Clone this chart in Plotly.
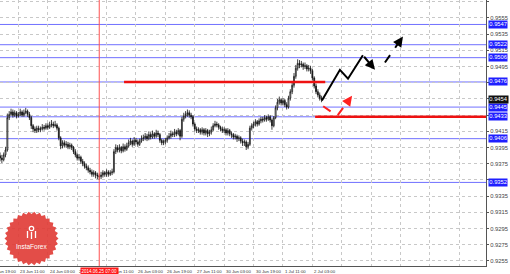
import math
import plotly.graph_objects as go

# ---------------- data ----------------
bar_index = list(range(6, 182))
first_open = 0.9385
closes = [
 0.9382,0.9380,0.9386,0.9392,0.9432,0.9436,0.9439,0.9435,0.9438,0.9434,0.9436,0.9439,0.9435,0.9438,0.9440,0.9436,
 0.9432,0.9422,0.9418,0.9416,0.9419,0.9417,0.9418,0.9420,0.9419,0.9422,0.9420,0.9423,0.9424,0.9422,0.9423,0.9419,
 0.9407,0.9397,0.9401,0.9398,0.9399,0.9396,0.9398,0.9395,0.9390,0.9386,0.9382,0.9383,0.9378,0.9375,0.9372,0.9370,
 0.9367,0.9365,0.9362,0.9364,0.9361,0.9360,0.9359,0.9361,0.9364,0.9362,0.9365,0.9362,0.9364,0.9365,0.9390,0.9395,
 0.9392,0.9395,0.9391,0.9396,0.9393,0.9397,0.9401,0.9403,0.9399,0.9404,0.9402,0.9399,0.9403,0.9406,0.9407,0.9409,
 0.9406,0.9411,0.9408,0.9412,0.9409,0.9413,0.9411,0.9404,0.9401,0.9402,0.9404,0.9407,0.9409,0.9412,0.9411,0.9414,
 0.9412,0.9416,0.9409,0.9430,0.9434,0.9436,0.9438,0.9435,0.9433,0.9424,0.9418,0.9416,0.9417,0.9414,0.9417,0.9413,
 0.9416,0.9412,0.9414,0.9417,0.9422,0.9424,0.9423,0.9420,0.9418,0.9416,0.9417,0.9413,0.9416,0.9412,0.9411,0.9408,
 0.9409,0.9406,0.9407,0.9403,0.9401,0.9402,0.9396,0.9399,0.9419,0.9422,0.9424,0.9427,0.9424,0.9428,0.9430,0.9429,
 0.9432,0.9430,0.9433,0.9429,0.9422,0.9432,0.9444,0.9451,0.9454,0.9450,0.9453,0.9448,0.9445,0.9456,0.9464,0.9472,
 0.9483,0.9493,0.9499,0.9497,0.9498,0.9495,0.9496,0.9492,0.9493,0.9490,0.9481,0.9471,0.9464,0.9460,0.9456,0.9454]
highs = [
 0.9389,0.9386,0.9389,0.9396,0.9437,0.9440,0.9443,0.9442,0.9441,0.9440,0.9439,0.9443,0.9441,0.9442,0.9444,0.9442,
 0.9439,0.9434,0.9424,0.9421,0.9422,0.9422,0.9421,0.9424,0.9423,0.9425,0.9425,0.9427,0.9429,0.9427,0.9428,0.9425,
 0.9421,0.9409,0.9404,0.9404,0.9403,0.9402,0.9401,0.9400,0.9397,0.9393,0.9388,0.9387,0.9385,0.9381,0.9378,0.9375,
 0.9373,0.9370,0.9368,0.9367,0.9366,0.9364,0.9363,0.9365,0.9367,0.9366,0.9368,0.9367,0.9367,0.9369,0.9393,0.9399,
 0.9398,0.9399,0.9397,0.9400,0.9399,0.9401,0.9405,0.9407,0.9405,0.9408,0.9407,0.9405,0.9406,0.9410,0.9411,0.9413,
 0.9412,0.9415,0.9414,0.9416,0.9414,0.9417,0.9416,0.9413,0.9406,0.9405,0.9407,0.9410,0.9413,0.9416,0.9415,0.9418,
 0.9417,0.9419,0.9418,0.9433,0.9438,0.9440,0.9442,0.9441,0.9438,0.9435,0.9426,0.9421,0.9420,0.9419,0.9420,0.9419,
 0.9419,0.9418,0.9417,0.9421,0.9425,0.9428,0.9427,0.9425,0.9422,0.9421,0.9420,0.9419,0.9419,0.9418,0.9415,0.9413,
 0.9412,0.9411,0.9410,0.9409,0.9406,0.9405,0.9404,0.9402,0.9422,0.9425,0.9427,0.9430,0.9429,0.9431,0.9433,0.9433,
 0.9435,0.9434,0.9436,0.9435,0.9431,0.9434,0.9447,0.9455,0.9458,0.9456,0.9456,0.9455,0.9451,0.9459,0.9467,0.9476,
 0.9487,0.9497,0.9504,0.9503,0.9502,0.9500,0.9500,0.9498,0.9497,0.9496,0.9492,0.9483,0.9474,0.9467,0.9463,0.9459]
lows = [
 0.9378,0.9376,0.9378,0.9383,0.9390,0.9429,0.9434,0.9432,0.9433,0.9431,0.9432,0.9434,0.9433,0.9433,0.9436,0.9433,
 0.9429,0.9418,0.9414,0.9413,0.9413,0.9414,0.9414,0.9416,0.9416,0.9417,0.9417,0.9418,0.9420,0.9419,0.9420,0.9416,
 0.9404,0.9393,0.9394,0.9395,0.9395,0.9393,0.9393,0.9392,0.9387,0.9383,0.9379,0.9379,0.9375,0.9372,0.9369,0.9367,
 0.9364,0.9362,0.9359,0.9359,0.9357,0.9356,0.9355,0.9356,0.9358,0.9359,0.9359,0.9359,0.9360,0.9361,0.9363,0.9387,
 0.9389,0.9389,0.9388,0.9389,0.9390,0.9391,0.9395,0.9398,0.9396,0.9397,0.9399,0.9396,0.9397,0.9401,0.9403,0.9404,
 0.9403,0.9404,0.9405,0.9406,0.9406,0.9407,0.9408,0.9401,0.9398,0.9398,0.9399,0.9401,0.9405,0.9406,0.9408,0.9408,
 0.9409,0.9410,0.9404,0.9407,0.9427,0.9431,0.9433,0.9432,0.9430,0.9421,0.9415,0.9413,0.9413,0.9411,0.9411,0.9410,
 0.9410,0.9408,0.9409,0.9411,0.9415,0.9420,0.9420,0.9417,0.9415,0.9413,0.9413,0.9410,0.9410,0.9409,0.9407,0.9405,
 0.9405,0.9402,0.9403,0.9400,0.9397,0.9397,0.9392,0.9393,0.9397,0.9416,0.9419,0.9421,0.9421,0.9422,0.9425,0.9426,
 0.9427,0.9427,0.9428,0.9426,0.9417,0.9420,0.9430,0.9441,0.9448,0.9447,0.9447,0.9445,0.9442,0.9443,0.9453,0.9461,
 0.9469,0.9480,0.9490,0.9493,0.9494,0.9491,0.9492,0.9489,0.9489,0.9486,0.9478,0.9468,0.9461,0.9457,0.9453,0.9451]
opens = [first_open] + closes[:-1]

time_tick_index = [0, 16, 32, 48, 64, 80, 96, 112, 128, 144, 160, 176]
time_tick_labels = ["22 Jun 19:00", "23 Jun 11:00", "24 Jun 03:00", "24 Jun 19:00", "25 Jun 11:00",
                    "26 Jun 03:00", "26 Jun 19:00", "27 Jun 11:00", "30 Jun 03:00", "30 Jun 19:00",
                    "1 Jul 11:00", "2 Jul 03:00"]
grid_time_index = list(range(0, 272, 16))

price_ticks = [0.9255, 0.9275, 0.9295, 0.9315, 0.9335, 0.9355, 0.9375, 0.9395, 0.9415,
               0.9435, 0.9455, 0.9475, 0.9495, 0.9515, 0.9535, 0.9555, 0.9575]
# ticks hidden under the coloured level labels are left blank
price_tick_labels = ["0.9255", "0.9275", "0.9295", "0.9315", "0.9335", "", "0.9375", "0.9395", "0.9415",
                     "", "", "", "0.9495", "0.9515", "0.9535", "0.9555", "0.9575"]

blue_levels = [0.9547, 0.9522, 0.9506, 0.9476, 0.9445, 0.9433, 0.9406, 0.9352]
blue_labels = ["0.9547", "0.9522", "0.9506", "0.9476", "0.9445", "0.9433", "0.9406", "0.9352"]
bid_price = 0.9454
bid_label = "0.9454"

red_levels = [0.9476, 0.9433]
red_starts = [73.5, 177.5]
red_ends = [183.0, 271.0]

marker_index = 60
marker_label = "2014.06.25 07:00"

black_path_x = [181.2, 191.0, 195.4, 203.5]
black_path_y = [0.9453, 0.9491, 0.9480, 0.9509]
black_head_x = 210.1
black_head_y = 0.9491
dash_start = (215.5, 0.9500)
dash_end = (225.3, 0.9532)
dash_head_tail = (222.5, 0.9523)
red_path_x = [181.9, 189.5, 196.0]
red_path_y = [0.9446, 0.9434, 0.9454]
red_head = (197.6, 0.9459)

x_range = [5.99, 270.5]
y_range = [0.92488, 0.95772]

FONT = "Liberation Sans"

# ---------------- figure ----------------
fig = go.Figure()

fig.add_trace(go.Candlestick(
    x=bar_index, open=opens, high=highs, low=lows, close=closes,
    increasing=dict(line=dict(color="#111111", width=0.8), fillcolor="#ffffff"),
    decreasing=dict(line=dict(color="#111111", width=0.8), fillcolor="#111111"),
    whiskerwidth=0, showlegend=False, hoverinfo="skip"))

fig.add_trace(go.Scatter(x=black_path_x, y=black_path_y, mode="lines",
                         line=dict(color="black", width=2), showlegend=False, hoverinfo="skip"))
fig.add_trace(go.Scatter(x=red_path_x, y=red_path_y, mode="lines",
                         line=dict(color="#ff2020", width=2, dash="dash"), showlegend=False, hoverinfo="skip"))
fig.add_trace(go.Scatter(x=[dash_start[0], dash_head_tail[0]], y=[dash_start[1], dash_head_tail[1]],
                         mode="lines", line=dict(color="black", width=2, dash="dash"),
                         showlegend=False, hoverinfo="skip"))

shapes = []
for lv in blue_levels:
    shapes.append(dict(type="line", xref="paper", x0=0, x1=1, yref="y", y0=lv, y1=lv,
                       line=dict(color="#7070ff", width=1), layer="below"))
for lv, s, e in zip(red_levels, red_starts, red_ends):
    shapes.append(dict(type="line", xref="x", x0=s, x1=e, yref="y", y0=lv, y1=lv,
                       line=dict(color="#ee1111", width=2.5)))
shapes.append(dict(type="line", xref="x", x0=marker_index, x1=marker_index, yref="paper", y0=0, y1=1,
                   line=dict(color="#ff5050", width=1)))

# InstaForex badge (decorative)
PW, PH = 486.0, 266.0
cx, cy, ro, ri, teeth = 31.5, 238.5, 27.0, 24.5, 30
pts = []
for k in range(teeth * 2):
    a = math.pi * k / teeth
    r = ro if k % 2 == 0 else ri
    px = cx + r * math.cos(a)
    py = min(cy + r * math.sin(a), PH)
    pts.append((px / PW, 1 - py / PH))
path = "M " + " L ".join("%.5f,%.5f" % p for p in pts) + " Z"
shapes.append(dict(type="path", xref="paper", yref="paper", path=path,
                   fillcolor="rgba(224,58,52,0.9)", line=dict(width=0)))
def circ(x, y, r):
    return dict(type="circle", xref="paper", yref="paper",
                x0=(x - r) / PW, x1=(x + r) / PW, y0=1 - (y + r) / PH, y1=1 - (y - r) / PH,
                line=dict(color="white", width=1.2), fillcolor="rgba(0,0,0,0)")
shapes.append(circ(31.5, 228.5, 2.2))
shapes.append(dict(type="path", xref="paper", yref="paper",
                   path="M %.5f,%.5f L %.5f,%.5f M %.5f,%.5f L %.5f,%.5f M %.5f,%.5f L %.5f,%.5f" % (
                       31.5 / PW, 1 - 232 / PH, 31.5 / PW, 1 - 239 / PH,
                       27.5 / PW, 1 - 231 / PH, 27.5 / PW, 1 - 238 / PH,
                       35.5 / PW, 1 - 231 / PH, 35.5 / PW, 1 - 238 / PH),
                   line=dict(color="white", width=1.3)))

annotations = []
span = x_range[1] - x_range[0]
for i, t in zip(time_tick_index, time_tick_labels):
    annotations.append(dict(x=(i - x_range[0]) / span, xref="paper", y=0, yref="paper", text=t,
                            showarrow=False, xanchor="left", yanchor="top", yshift=-0.5,
                            font=dict(family=FONT, size=4.3, color="#333333")))
annotations.append(dict(x=marker_index, xref="x", y=0, yref="paper", text=marker_label, showarrow=False,
                        xanchor="center", yanchor="top", yshift=-0.5, bgcolor="#ff1a1a",
                        borderpad=0.6, font=dict(family=FONT, size=4.5, color="white")))
for lv, lb in zip(blue_levels, blue_labels):
    annotations.append(dict(x=1, xref="paper", y=lv, yref="y", text=lb, showarrow=False,
                            xanchor="left", xshift=2, bgcolor="#1f1fff", borderpad=0.3,
                            font=dict(family=FONT, size=5.8, color="white")))
annotations.append(dict(x=1, xref="paper", y=bid_price, yref="y", text=bid_label, showarrow=False,
                        xanchor="left", xshift=2, bgcolor="#111111", borderpad=0.3,
                        font=dict(family=FONT, size=5.8, color="white")))
annotations.append(dict(x=black_head_x, y=black_head_y, ax=black_path_x[-1], ay=black_path_y[-1],
                        xref="x", yref="y", axref="x", ayref="y", showarrow=True, text="",
                        arrowhead=2, arrowsize=1, arrowwidth=2, arrowcolor="black"))
annotations.append(dict(x=dash_end[0], y=dash_end[1], ax=dash_head_tail[0], ay=dash_head_tail[1],
                        xref="x", yref="y", axref="x", ayref="y", showarrow=True, text="",
                        arrowhead=2, arrowsize=1, arrowwidth=2, arrowcolor="black"))
annotations.append(dict(x=red_head[0], y=red_head[1], ax=red_path_x[-1], ay=red_path_y[-1],
                        xref="x", yref="y", axref="x", ayref="y", showarrow=True, text="",
                        arrowhead=2, arrowsize=1, arrowwidth=2, arrowcolor="#ff2020"))
annotations.append(dict(x=31.5 / PW, y=1 - 246.5 / PH, xref="paper", yref="paper", text="InstaForex",
                        xanchor="center", yanchor="middle",
                        showarrow=False, font=dict(family=FONT, size=6.5, color="white")))

fig.update_layout(
    width=510, height=274, margin=dict(l=0, r=24, t=0, b=8),
    paper_bgcolor="white", plot_bgcolor="white",
    shapes=shapes, annotations=annotations, showlegend=False,
    xaxis=dict(range=x_range, tickvals=grid_time_index, showticklabels=False,
               showgrid=True, gridcolor="#c8c8c8", griddash="dot", gridwidth=1,
               zeroline=False, showline=True, linecolor="#555555", linewidth=1,
               rangeslider=dict(visible=False), fixedrange=True),
    yaxis=dict(range=y_range, side="right", tickvals=price_ticks, ticktext=price_tick_labels,
               showgrid=True, gridcolor="#c8c8c8", griddash="dot", gridwidth=1,
               zeroline=False, showline=True, linecolor="#555555", linewidth=1,
               ticks="outside", ticklen=2, tickcolor="#555555",
               tickfont=dict(family=FONT, size=5.8, color="#444444"), fixedrange=True),
)

fig.write_html("out.html")
